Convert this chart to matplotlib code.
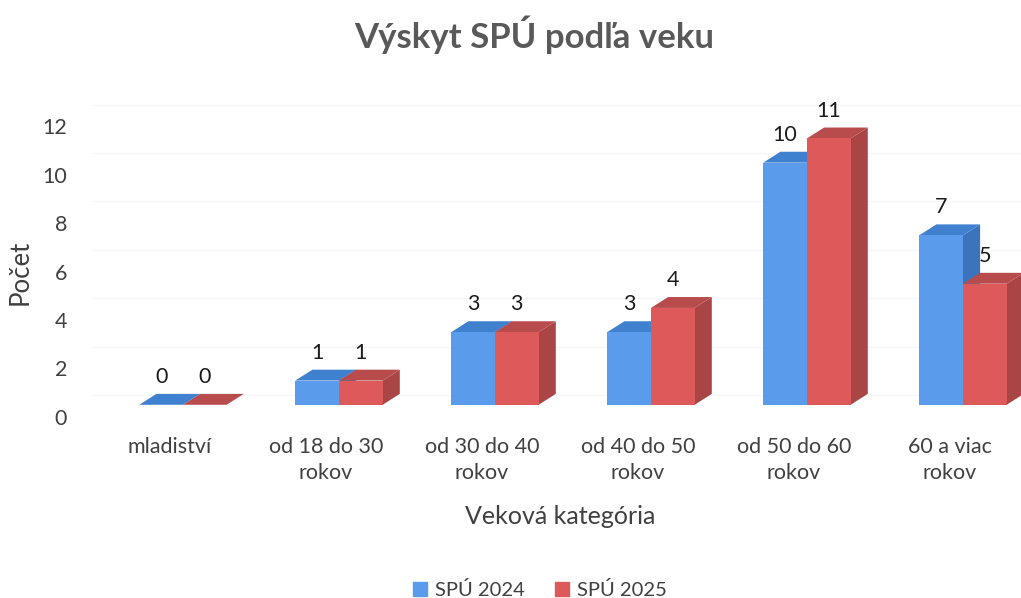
import matplotlib.pyplot as plt
from matplotlib.patches import Patch

plt.rcParams['font.family'] = ['Lato', 'DejaVu Sans']

categories = ["mladiství", "od 18 do 30\nrokov", "od 30 do 40\nrokov",
              "od 40 do 50\nrokov", "od 50 do 60\nrokov", "60 a viac\nrokov"]
spu_2024 = [0, 1, 3, 3, 10, 7]
spu_2025 = [0, 1, 3, 4, 11, 5]
series_names = ["SPÚ 2024", "SPÚ 2025"]

# front, side, top colours
blue = ("#5b9bec", "#3b74bd", "#3f80cf")
red = ("#de5959", "#a94545", "#b84c4c")

W, H = 1021, 598
fig = plt.figure(figsize=(W / 100, H / 100), dpi=100)
ax = fig.add_axes([92 / W, (598 - 429) / H, 936 / W, 339 / H])
ax.set_xlim(-0.5, 5.5)
ax.set_ylim(-0.5, 13.5)

# fake 3d look
base = 0.5
w = 0.28
shift = 0.083
dx, dy = 0.11, 0.45

for y in range(0, 13, 2):
    ax.axhline(y + 0.9, color="#f7f7f7", lw=1, zorder=0)


def bar3d(x0, v, cols):
    top = base + v
    ax.fill([x0 + w, x0 + w + dx, x0 + w + dx, x0 + w],
            [base, base + dy, top + dy, top], color=cols[1], lw=0, zorder=2)
    ax.fill([x0, x0 + dx, x0 + w + dx, x0 + w],
            [top, top + dy, top + dy, top], color=cols[2], lw=0, zorder=2)
    if v > 0:
        ax.fill([x0, x0 + w, x0 + w, x0], [base, base, top, top],
                color=cols[0], lw=0, zorder=2)
    ax.text(x0 + w / 2, top + 1.15, str(v), ha="center", va="center",
            fontsize=15.5, color="#1a1a1a", zorder=3)


for i in range(len(categories)):
    bar3d(i + shift - w, spu_2024[i], blue)
    bar3d(i + shift, spu_2025[i], red)

ax.set_yticks(range(0, 13, 2))
ax.set_xticks(range(len(categories)))
ax.set_xticklabels(categories, linespacing=1.35)
ax.tick_params(axis="y", length=0, pad=18, labelsize=15.5, labelcolor="#404040")
ax.tick_params(axis="x", length=0, pad=6, labelsize=15.5, labelcolor="#404040")
for s in ax.spines.values():
    s.set_visible(False)

fig.text(534 / W, 1 - 35 / H, "Výskyt SPÚ podľa veku", ha="center", va="center",
         fontsize=25, fontweight="bold", color="#595959")
fig.text(20 / W, 1 - 272 / H, "Počet", rotation=90, ha="center", va="center",
         fontsize=18.5, color="#404040")
fig.text(560 / W, 1 - 516 / H, "Veková kategória", ha="center", va="center",
         fontsize=18, color="#404040")

handles = [Patch(color=blue[0]), Patch(color=red[0])]
fig.legend(handles, series_names, loc="center", ncol=2, frameon=False,
           bbox_to_anchor=(540 / W, 1 - 590 / H), fontsize=14.5,
           handlelength=0.7, handleheight=0.7, handletextpad=0.4,
           columnspacing=1.5, labelcolor="#404040")

fig.savefig("out.png", dpi=100)
